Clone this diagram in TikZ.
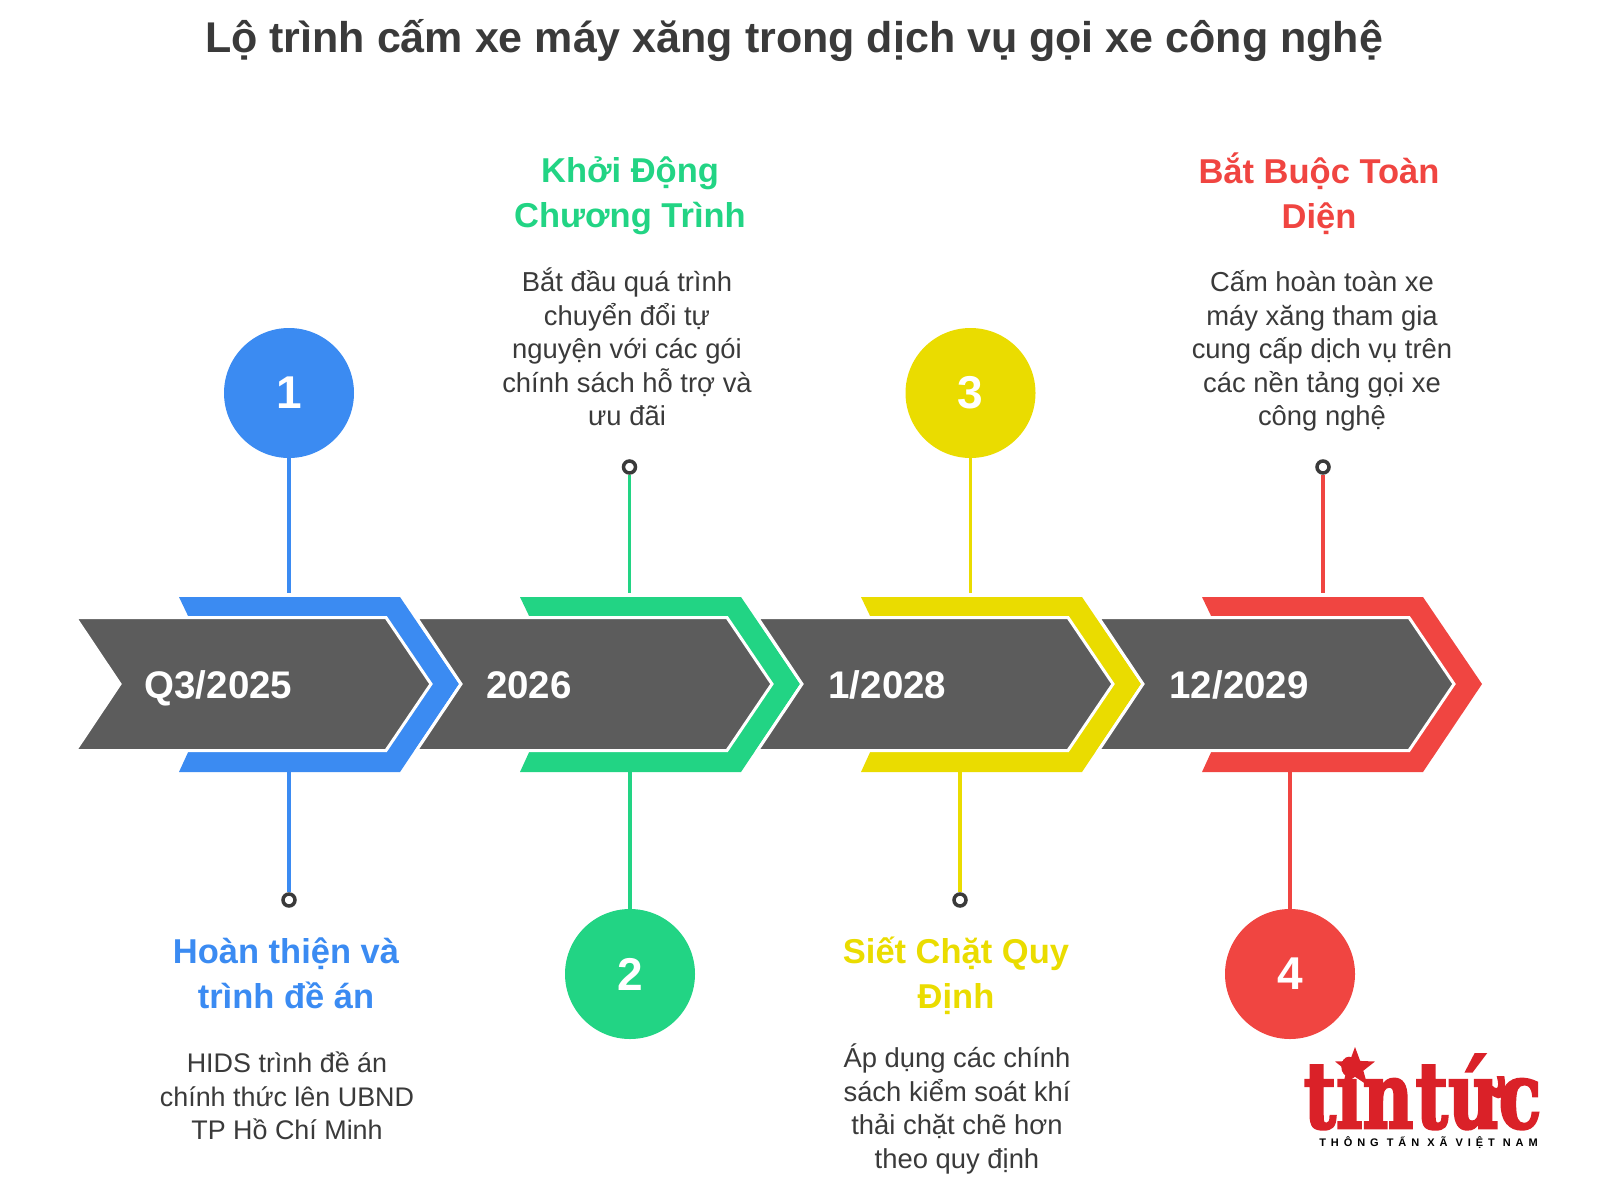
\documentclass[tikz,border=0pt]{standalone}
\usepackage{fontspec}
\usepackage{graphicx}
\setmainfont{Liberation Sans}
\newfontfamily\logofont[BoldFeatures={FakeBold=3}]{DejaVu Serif}
\newfontfamily\logosubfont[LetterSpace=45]{Liberation Sans}
\usetikzlibrary{shapes.geometric}
\definecolor{stepblue}{HTML}{3B8BF2}
\definecolor{stepgreen}{HTML}{22D484}
\definecolor{stepyellow}{HTML}{EADC00}
\definecolor{stepred}{HTML}{F04541}
\definecolor{bandgray}{HTML}{5C5C5C}
\definecolor{inkgray}{HTML}{3A3A3A}
\definecolor{logored}{HTML}{DA2128}
\tikzset{
    bandshape/.style={fill=bandgray,draw=white,line width=3pt,line join=miter},
    datetext/.style={anchor=base west,text=white,font=\fontsize{38.5}{38.5}\selectfont\bfseries},
    numdisc/.style={circle,minimum size=130pt,inner sep=0pt,text=white,font=\fontsize{46}{46}\selectfont\bfseries},
    ringdot/.style={circle,draw=inkgray,fill=white,line width=3.5pt,minimum size=12pt,inner sep=0pt},
    stemline/.style={line width=3.2pt},
    headtext/.style={align=center,font=\fontsize{34.5}{45}\selectfont\bfseries},
    bodytext/.style={align=center,text=inkgray,font=\fontsize{27.4}{33.5}\selectfont}
}
\begin{document}
\begin{tikzpicture}[x=1pt,y=-1pt]
    \useasboundingbox (0,0) rectangle (1600,1178);
    \node[text=inkgray,font=\fontsize{43}{43}\selectfont\bfseries] (title) at (794,41) {Lộ trình cấm xe máy xăng trong dịch vụ gọi xe công nghệ};

    \fill[stepblue] (179,597) -- (400,597) -- (459,684) -- (400,772) -- (179,772) -- (190,748) -- (190,620) -- cycle;
    \draw[bandshape] (75.5,617.5) -- (386,617.5) -- (431,684) -- (386,750.5) -- (75.5,750.5) -- (120,684) -- cycle;
    \fill[stepgreen] (520,597) -- (741,597) -- (800,684) -- (741,772) -- (520,772) -- (531,748) -- (531,620) -- cycle;
    \draw[bandshape] (416.5,617.5) -- (727,617.5) -- (772,684) -- (727,750.5) -- (416.5,750.5) -- (461,684) -- cycle;
    \fill[stepyellow] (861,597) -- (1082,597) -- (1141,684) -- (1082,772) -- (861,772) -- (872,748) -- (872,620) -- cycle;
    \draw[bandshape] (757.5,617.5) -- (1068,617.5) -- (1113,684) -- (1068,750.5) -- (757.5,750.5) -- (802,684) -- cycle;
    \fill[stepred] (1202,597) -- (1423,597) -- (1482,684) -- (1423,772) -- (1202,772) -- (1213,748) -- (1213,620) -- cycle;
    \draw[bandshape] (1098.5,617.5) -- (1409,617.5) -- (1454,684) -- (1409,750.5) -- (1098.5,750.5) -- (1143,684) -- cycle;

    \node[datetext] (dateA) at (141,698) {Q3/2025};
    \node[datetext] (dateB) at (482.5,698) {2026};
    \node[datetext] (dateC) at (825,698) {1/2028};
    \node[datetext] (dateD) at (1166,698) {12/2029};

    \coordinate (stemA) at (289,593);
    \coordinate (stemAb) at (289,772);
    \coordinate (stemB) at (629.5,593);
    \coordinate (stemBb) at (630,772);
    \coordinate (stemC) at (970.5,593);
    \coordinate (stemCb) at (960,772);
    \coordinate (stemD) at (1323,593);
    \coordinate (stemDb) at (1290,772);

    \node[numdisc,fill=stepblue] (numA) at (289,393) {1};
    \node[numdisc,fill=stepgreen] (numB) at (630,974) {2};
    \node[numdisc,fill=stepyellow] (numC) at (970.5,393) {3};
    \node[numdisc,fill=stepred] (numD) at (1290,974) {4};
    \node[ringdot] (dotA) at (289,900) {};
    \node[ringdot] (dotB) at (629.5,467) {};
    \node[ringdot] (dotC) at (960,900) {};
    \node[ringdot] (dotD) at (1323,467) {};

    \draw[stemline,stepblue] (numA) -- (stemA);
    \draw[stemline,stepblue] (stemAb) -- (dotA);
    \draw[stemline,stepgreen] (dotB) -- (stemB);
    \draw[stemline,stepgreen] (stemBb) -- (numB);
    \draw[stemline,stepyellow] (numC) -- (stemC);
    \draw[stemline,stepyellow] (stemCb) -- (dotC);
    \draw[stemline,stepred] (dotD) -- (stemD);
    \draw[stemline,stepred] (stemDb) -- (numD);

    \node[headtext,text=stepgreen] (headB) at (630,196) {Khởi Động\\Chương Trình};
    \node[headtext,text=stepred] (headD) at (1319,194) {Bắt Buộc Toàn\\Diện};
    \node[headtext,text=stepblue] (headA) at (286,973) {Hoàn thiện và\\trình đề án};
    \node[headtext,text=stepyellow] (headC) at (956,976) {Siết Chặt Quy\\Định};

    \node[bodytext] (bodyB) at (627,347) {Bắt đầu quá trình\\chuyển đổi tự\\nguyện với các gói\\chính sách hỗ trợ và\\ưu đãi};
    \node[bodytext] (bodyD) at (1322,351) {Cấm hoàn toàn xe\\máy xăng tham gia\\cung cấp dịch vụ trên\\các nền tảng gọi xe\\công nghệ};
    \node[bodytext,font=\fontsize{26.9}{33.5}\selectfont] (bodyA) at (287,1096) {HIDS trình đề án\\chính thức lên UBND\\TP Hồ Chí Minh};
    \node[bodytext] (bodyC) at (957,1109) {Áp dụng các chính\\sách kiểm soát khí\\thải chặt chẽ hơn\\theo quy định};

    \node[anchor=base,text=logored,inner sep=0pt] (logoword) at (1422.5,1128) {\scalebox{0.76}[1]{\logofont\fontsize{92}{92}\selectfont\bfseries tin\hspace{3pt}tức}};
    \node[star,star points=5,star point ratio=2.4,fill=logored,minimum size=42pt,inner sep=0pt] (logostar) at (1355,1068) {};
    \node[text=black,inner sep=0pt,font=\logosubfont\fontsize{11}{11}\selectfont\bfseries] (logosub) at (1428.5,1143) {THÔNG TẤN XÃ VIỆT NAM};
\end{tikzpicture}
\end{document}
